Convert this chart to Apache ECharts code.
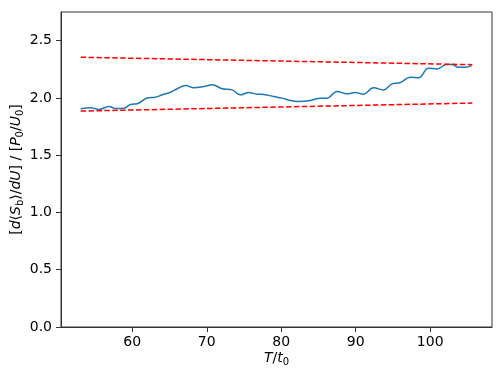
<!DOCTYPE html>
<html><head><meta charset="utf-8">
<script src="https://cdn.jsdelivr.net/npm/echarts@6/dist/echarts.min.js"></script>
<style>html,body{margin:0;padding:0;background:#fff}#c{width:503px;height:377px}</style>
</head><body><div id="c"></div>
<script>
// Blue curve: time T/t0 and value
const tValues = [53.07,54.41,55.52,56.86,57.76,58.87,59.77,60.67,62.01,63.12,64.02,65.14,66.03,67.15,68.26,69.6,70.73,72.07,73.41,74.52,75.63,76.76,77.65,78.99,80.11,81.23,82.34,83.91,85.25,86.15,87.49,88.83,89.94,91.05,92.39,93.74,94.86,95.98,97.32,98.43,99.77,100.9,102.24,102.91,103.8,104.7,105.59];
const sValues = [1.905,1.914,1.899,1.925,1.908,1.91,1.943,1.949,2.0,2.006,2.027,2.05,2.08,2.108,2.088,2.099,2.114,2.08,2.07,2.027,2.047,2.032,2.03,2.012,1.998,1.977,1.969,1.977,1.998,1.998,2.056,2.036,2.047,2.032,2.088,2.07,2.123,2.134,2.18,2.175,2.259,2.253,2.291,2.291,2.267,2.267,2.282];
// Red dashed bounds
const boundT = [53.07, 105.66];
const upperBound = [2.355, 2.29];
const lowerBound = [1.885, 1.955];
const xTicks = [60,70,80,90,100];
const yTicks = [0,0.5,1.0,1.5,2.0,2.5];

const chart = echarts.init(document.getElementById('c'), null, {renderer:'canvas'});
const font = 'DejaVu Sans';
chart.setOption({
  animation:false,
  backgroundColor:'#fff',
  grid:{left:61,right:11,top:12,bottom:50,containLabel:false,outerBoundsMode:'none',show:true,borderColor:'#333',borderWidth:1,backgroundColor:'transparent'},
  xAxis:{type:'value',min:50.43,max:108.3,
    axisLine:{show:true,lineStyle:{color:'#333',width:1}},
    axisTick:{show:true,inside:false,length:5,lineStyle:{color:'#333'},customValues:xTicks},
    axisLabel:{color:'#000',fontSize:14,fontFamily:font,margin:8,customValues:xTicks},
    splitLine:{show:false},
    name:'{i|T}{n|/}{i|t}{s|0}',nameLocation:'middle',nameGap:22,nameMoveOverlap:false,
    nameTextStyle:{fontFamily:font,fontSize:14,color:'#000',
      rich:{i:{fontStyle:'italic',fontSize:14,fontFamily:font,color:'#000'},n:{fontSize:14,fontFamily:font,color:'#000'},s:{fontSize:10,fontFamily:font,color:'#000',verticalAlign:'bottom',padding:[8,0,0,0]}}}
  },
  yAxis:{type:'value',min:0,max:2.75,
    axisLine:{show:true,lineStyle:{color:'#333',width:1}},
    axisTick:{show:true,inside:false,length:5,lineStyle:{color:'#333'},customValues:yTicks},
    axisLabel:{color:'#000',fontSize:14,fontFamily:font,margin:9,customValues:yTicks,formatter:v=>v.toFixed(1)},
    splitLine:{show:false},
    name:'[{i|d}⟨{i|S}{s|b}⟩/{i|dU}] / [{i|P}{s|0}/{i|U}{s|0}]',nameLocation:'middle',nameGap:36,nameMoveOverlap:false,
    nameTextStyle:{fontFamily:font,fontSize:14,color:'#000',
      rich:{i:{fontStyle:'italic',fontSize:14,fontFamily:font,color:'#000'},s:{fontSize:10,fontFamily:font,color:'#000',verticalAlign:'bottom',padding:[8,0,0,0]}}}
  },
  series:[
    {type:'line',data:tValues.map((t,i)=>[t,sValues[i]]),smooth:0.4,showSymbol:false,
     lineStyle:{color:'#1f77b4',width:1.5},z:3},
    {type:'line',data:boundT.map((t,i)=>[t,upperBound[i]]),showSymbol:false,
     lineStyle:{color:'#ff0000',width:1.5,type:[5.5,2.4]},z:4},
    {type:'line',data:boundT.map((t,i)=>[t,lowerBound[i]]),showSymbol:false,
     lineStyle:{color:'#ff0000',width:1.5,type:[5.5,2.4]},z:4}
  ]
});
</script></body></html>
